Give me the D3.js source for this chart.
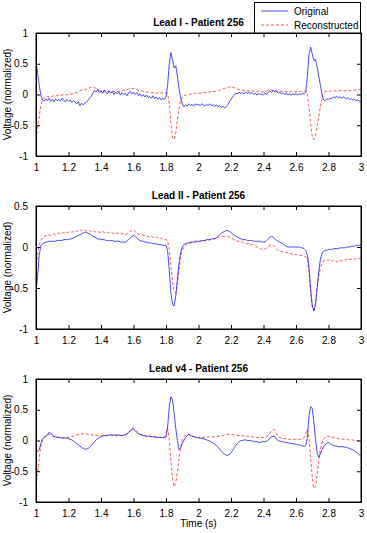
<!DOCTYPE html>
<html>
<head>
<meta charset="utf-8">
<script src="https://cdn.jsdelivr.net/npm/d3@7"></script>
<style>
  body { margin: 0; background: #fff; }
  text { font-family: "Liberation Sans", Arial, Helvetica, sans-serif; }
</style>
</head>
<body>
<div id="chart"></div>
<script>
// Data (sampled every 0.01 s from 1.00 to 3.00 s)
const time = d3.range(201).map(i => +(1 + i / 100).toFixed(2))

const xTicks = [1, 1.2, 1.4, 1.6, 1.8, 2, 2.2, 2.4, 2.6, 2.8, 3]
const titles = ['Lead I - Patient 256', 'Lead II - Patient 256', 'Lead v4 - Patient 256']
const yDomains = [[-1, 1], [-1, 0.5], [-1, 1]]
const yTicksList = [[-1, -0.5, 0, 0.5, 1], [-1, -0.5, 0, 0.5], [-1, -0.5, 0, 0.5, 1]]
const legendLabels = ['Original', 'Reconstructed']

const leadIOrig = [
  0.52, 0.35, 0.15, -0.02, -0.09, -0.11, -0.07, -0.10, -0.06, -0.11,
  -0.08, -0.12, -0.07, -0.10, -0.08, -0.11, -0.06, -0.09, -0.12, -0.08,
  -0.11, -0.09, -0.13, -0.10, -0.12, -0.15, -0.12, -0.18, -0.14, -0.17,
  -0.14, -0.12, -0.10, -0.06, -0.03, 0.02, 0.07, 0.04, 0.08, 0.03,
  0.06, 0.02, 0.07, 0.04, 0.01, 0.06, 0.02, 0.05, 0.00, 0.04,
  0.01, 0.04, -0.01, 0.03, 0.00, 0.02, -0.02, 0.03, 0.05, 0.01,
  0.04, 0.00, 0.03, -0.02, 0.01, -0.03, 0.00, -0.04, -0.01, -0.05,
  -0.03, -0.06, -0.02, -0.07, -0.04, -0.08, -0.05, -0.09, -0.06, -0.08,
  -0.04, 0.15, 0.50, 0.68, 0.56, 0.43, 0.47, 0.30, 0.10, -0.05,
  -0.15, -0.20, -0.17, -0.19, -0.15, -0.18, -0.16, -0.19, -0.15, -0.17,
  -0.16, -0.18, -0.15, -0.17, -0.19, -0.16, -0.18, -0.15, -0.18, -0.17,
  -0.19, -0.17, -0.20, -0.18, -0.21, -0.19, -0.22, -0.20, -0.17, -0.12,
  -0.08, -0.04, -0.01, 0.02, 0.01, 0.04, 0.02, 0.03, 0.01, 0.04,
  0.02, 0.04, 0.01, 0.03, 0.00, 0.02, -0.01, 0.02, 0.00, 0.01,
  -0.01, 0.02, 0.00, 0.04, 0.06, 0.03, 0.07, 0.04, 0.05, 0.02,
  0.04, 0.01, 0.03, 0.00, 0.02, -0.01, 0.01, -0.01, 0.01, 0.00,
  0.01, -0.01, 0.01, 0.00, 0.02, 0.01, 0.04, 0.30, 0.65, 0.77,
  0.66, 0.55, 0.57, 0.45, 0.30, 0.15, 0.00, -0.09, -0.10, -0.07,
  -0.08, -0.06, -0.07, -0.04, -0.05, -0.03, -0.05, -0.04, -0.06, -0.04,
  -0.05, -0.07, -0.05, -0.08, -0.07, -0.09, -0.08, -0.10, -0.09, -0.11,
  -0.12
]
const leadIRec = [
  -0.72, -0.55, -0.35, -0.18, -0.09, -0.05, -0.04, -0.03, -0.04, -0.03,
  -0.03, -0.02, -0.03, -0.01, -0.02, -0.01, -0.01, 0.00, -0.01, 0.00,
  0.00, 0.01, 0.01, 0.02, 0.03, 0.03, 0.05, 0.06, 0.07, 0.08,
  0.08, 0.09, 0.10, 0.11, 0.12, 0.12, 0.11, 0.10, 0.08, 0.07,
  0.06, 0.06, 0.05, 0.06, 0.05, 0.05, 0.04, 0.05, 0.05, 0.04,
  0.05, 0.05, 0.06, 0.06, 0.07, 0.07, 0.08, 0.09, 0.10, 0.10,
  0.10, 0.09, 0.08, 0.07, 0.06, 0.06, 0.05, 0.04, 0.04, 0.04,
  0.04, 0.03, 0.03, 0.03, 0.02, 0.03, 0.03, 0.02, 0.03, 0.03,
  0.03, 0.02, -0.15, -0.45, -0.70, -0.73, -0.62, -0.42, -0.22, -0.10,
  -0.04, -0.02, -0.01, 0.00, 0.00, 0.01, 0.01, 0.01, 0.02, 0.02,
  0.02, 0.02, 0.03, 0.03, 0.03, 0.04, 0.04, 0.04, 0.05, 0.05,
  0.05, 0.06, 0.06, 0.07, 0.08, 0.09, 0.10, 0.11, 0.12, 0.12,
  0.12, 0.12, 0.11, 0.10, 0.09, 0.08, 0.07, 0.07, 0.06, 0.06,
  0.06, 0.06, 0.05, 0.06, 0.05, 0.05, 0.04, 0.05, 0.04, 0.04,
  0.04, 0.05, 0.06, 0.07, 0.08, 0.07, 0.06, 0.07, 0.06, 0.05,
  0.05, 0.05, 0.04, 0.05, 0.04, 0.04, 0.04, 0.05, 0.04, 0.04,
  0.04, 0.05, 0.05, 0.05, 0.06, 0.06, 0.06, 0.02, -0.20, -0.48,
  -0.68, -0.73, -0.66, -0.52, -0.36, -0.20, -0.06, 0.03, 0.05, 0.05,
  0.06, 0.05, 0.06, 0.06, 0.06, 0.05, 0.06, 0.06, 0.06, 0.06,
  0.06, 0.06, 0.07, 0.06, 0.07, 0.07, 0.07, 0.07, 0.07, 0.08,
  0.08
]
const leadIIOrig = [
  -0.54, -0.35, -0.10, 0.02, 0.04, 0.05, 0.06, 0.06, 0.07, 0.07,
  0.07, 0.07, 0.07, 0.08, 0.08, 0.08, 0.08, 0.09, 0.09, 0.09,
  0.09, 0.10, 0.10, 0.11, 0.12, 0.13, 0.14, 0.15, 0.16, 0.17,
  0.18, 0.18, 0.17, 0.16, 0.15, 0.13, 0.12, 0.11, 0.10, 0.10,
  0.09, 0.09, 0.09, 0.08, 0.08, 0.08, 0.08, 0.08, 0.07, 0.07,
  0.07, 0.07, 0.06, 0.06, 0.06, 0.06, 0.07, 0.09, 0.11, 0.13,
  0.14, 0.13, 0.11, 0.09, 0.08, 0.07, 0.07, 0.06, 0.06, 0.05,
  0.05, 0.05, 0.04, 0.04, 0.04, 0.03, 0.03, 0.03, 0.02, 0.02,
  0.02, -0.05, -0.28, -0.55, -0.70, -0.72, -0.60, -0.40, -0.20, -0.07,
  0.00, 0.03, 0.04, 0.05, 0.05, 0.06, 0.06, 0.06, 0.07, 0.07,
  0.07, 0.07, 0.08, 0.08, 0.08, 0.09, 0.09, 0.09, 0.10, 0.10,
  0.10, 0.11, 0.13, 0.15, 0.17, 0.18, 0.19, 0.20, 0.20, 0.19,
  0.18, 0.16, 0.14, 0.13, 0.12, 0.11, 0.10, 0.09, 0.09, 0.09,
  0.08, 0.08, 0.08, 0.08, 0.07, 0.07, 0.07, 0.07, 0.07, 0.06,
  0.06, 0.06, 0.08, 0.10, 0.12, 0.13, 0.12, 0.10, 0.08, 0.07,
  0.06, 0.05, 0.04, 0.02, 0.01, 0.00, 0.00, 0.00, 0.00, 0.00,
  0.00, 0.00, 0.00, -0.01, -0.01, -0.02, -0.04, -0.10, -0.25, -0.50,
  -0.72, -0.78, -0.70, -0.50, -0.30, -0.15, -0.08, -0.05, -0.04, -0.04,
  -0.03, -0.03, -0.03, -0.02, -0.02, -0.02, -0.02, -0.01, -0.01, -0.01,
  -0.01, 0.00, 0.00, 0.00, 0.01, 0.01, 0.01, 0.02, 0.02, 0.02,
  0.03
]
const leadIIRec = [
  -0.28, -0.10, 0.03, 0.08, 0.11, 0.13, 0.14, 0.14, 0.15, 0.14,
  0.15, 0.16, 0.15, 0.16, 0.17, 0.16, 0.17, 0.18, 0.17, 0.18,
  0.18, 0.19, 0.18, 0.19, 0.20, 0.19, 0.20, 0.21, 0.20, 0.21,
  0.21, 0.20, 0.21, 0.20, 0.19, 0.20, 0.19, 0.18, 0.19, 0.18,
  0.18, 0.19, 0.18, 0.17, 0.18, 0.17, 0.18, 0.17, 0.16, 0.17,
  0.17, 0.16, 0.17, 0.16, 0.16, 0.15, 0.16, 0.17, 0.19, 0.20,
  0.21, 0.19, 0.17, 0.16, 0.15, 0.15, 0.14, 0.14, 0.13, 0.13,
  0.12, 0.13, 0.12, 0.11, 0.12, 0.11, 0.10, 0.11, 0.10, 0.09,
  0.09, 0.08, -0.03, -0.22, -0.42, -0.54, -0.56, -0.46, -0.28, -0.12,
  -0.04, 0.00, 0.02, 0.03, 0.04, 0.05, 0.05, 0.06, 0.06, 0.06,
  0.06, 0.07, 0.07, 0.07, 0.08, 0.08, 0.08, 0.09, 0.09, 0.10,
  0.10, 0.11, 0.12, 0.12, 0.13, 0.13, 0.13, 0.13, 0.13, 0.12,
  0.11, 0.10, 0.09, 0.08, 0.07, 0.07, 0.06, 0.06, 0.05, 0.05,
  0.04, 0.04, 0.03, 0.03, 0.02, 0.01, 0.00, -0.01, -0.02, -0.03,
  -0.03, -0.02, -0.01, 0.01, 0.02, 0.03, 0.02, 0.00, -0.02, -0.04,
  -0.05, -0.05, -0.06, -0.06, -0.07, -0.07, -0.08, -0.08, -0.09, -0.09,
  -0.09, -0.10, -0.10, -0.10, -0.11, -0.11, -0.12, -0.15, -0.30, -0.55,
  -0.72, -0.77, -0.68, -0.50, -0.35, -0.25, -0.20, -0.17, -0.16, -0.16,
  -0.16, -0.15, -0.17, -0.16, -0.17, -0.18, -0.17, -0.16, -0.17, -0.16,
  -0.16, -0.15, -0.16, -0.15, -0.15, -0.14, -0.15, -0.14, -0.14, -0.14,
  -0.13
]
const leadV4Orig = [
  -0.20, -0.17, -0.15, -0.05, 0.02, 0.05, 0.06, 0.09, 0.13, 0.12,
  0.09, 0.07, 0.06, 0.05, 0.05, 0.05, 0.04, 0.04, 0.04, 0.04,
  0.03, 0.02, 0.01, -0.01, -0.03, -0.05, -0.07, -0.09, -0.11, -0.13,
  -0.14, -0.14, -0.13, -0.11, -0.08, -0.05, -0.02, 0.01, 0.03, 0.05,
  0.06, 0.07, 0.08, 0.08, 0.08, 0.09, 0.09, 0.09, 0.09, 0.09,
  0.09, 0.09, 0.08, 0.08, 0.09, 0.10, 0.11, 0.13, 0.16, 0.18,
  0.18, 0.16, 0.13, 0.11, 0.10, 0.09, 0.08, 0.08, 0.07, 0.07,
  0.07, 0.06, 0.06, 0.06, 0.05, 0.05, 0.05, 0.05, 0.05, 0.05,
  0.06, 0.22, 0.55, 0.71, 0.66, 0.45, 0.20, 0.00, -0.15, -0.12,
  -0.05, 0.00, 0.05, 0.08, 0.10, 0.09, 0.07, 0.06, 0.05, 0.05,
  0.04, 0.04, 0.03, 0.03, 0.02, 0.01, 0.00, -0.01, -0.03, -0.04,
  -0.06, -0.08, -0.11, -0.14, -0.17, -0.20, -0.22, -0.24, -0.24, -0.23,
  -0.20, -0.16, -0.12, -0.08, -0.05, -0.02, 0.00, 0.00, 0.01, 0.01,
  0.00, 0.00, 0.00, -0.01, -0.01, -0.02, -0.02, -0.03, -0.03, -0.02,
  -0.02, -0.02, -0.01, 0.01, 0.04, 0.06, 0.07, 0.06, 0.02, 0.00,
  -0.01, -0.02, -0.02, -0.03, -0.03, -0.04, -0.04, -0.05, -0.05, -0.06,
  -0.06, -0.07, -0.07, -0.08, -0.09, -0.10, -0.08, 0.05, 0.40, 0.55,
  0.52, 0.30, 0.02, -0.20, -0.27, -0.22, -0.15, -0.10, -0.07, -0.04,
  -0.03, -0.05, -0.07, -0.08, -0.09, -0.09, -0.10, -0.10, -0.10, -0.10,
  -0.11, -0.11, -0.12, -0.13, -0.14, -0.15, -0.17, -0.19, -0.21, -0.23,
  -0.26
]
const leadV4Rec = [
  -0.75, -0.55, -0.28, -0.08, 0.02, 0.06, 0.08, 0.10, 0.10, 0.09,
  0.07, 0.06, 0.05, 0.05, 0.05, 0.04, 0.04, 0.05, 0.05, 0.05,
  0.05, 0.05, 0.06, 0.07, 0.08, 0.09, 0.10, 0.10, 0.11, 0.11,
  0.11, 0.11, 0.10, 0.10, 0.09, 0.09, 0.09, 0.08, 0.08, 0.08,
  0.08, 0.08, 0.09, 0.09, 0.08, 0.08, 0.09, 0.08, 0.08, 0.08,
  0.08, 0.08, 0.08, 0.08, 0.09, 0.09, 0.10, 0.13, 0.17, 0.20,
  0.20, 0.18, 0.15, 0.12, 0.10, 0.09, 0.08, 0.08, 0.07, 0.07,
  0.07, 0.06, 0.06, 0.06, 0.06, 0.05, 0.05, 0.05, 0.05, 0.05,
  0.12, 0.20, 0.02, -0.33, -0.62, -0.75, -0.70, -0.50, -0.30, -0.12,
  0.00, 0.06, 0.09, 0.10, 0.10, 0.09, 0.08, 0.07, 0.06, 0.05,
  0.05, 0.05, 0.05, 0.05, 0.05, 0.05, 0.06, 0.06, 0.06, 0.06,
  0.06, 0.06, 0.07, 0.07, 0.08, 0.08, 0.09, 0.10, 0.10, 0.10,
  0.10, 0.10, 0.09, 0.09, 0.08, 0.08, 0.08, 0.08, 0.07, 0.07,
  0.07, 0.07, 0.06, 0.06, 0.06, 0.05, 0.05, 0.05, 0.05, 0.05,
  0.05, 0.06, 0.07, 0.09, 0.12, 0.16, 0.18, 0.17, 0.12, 0.07,
  0.05, 0.04, 0.03, 0.03, 0.03, 0.02, 0.02, 0.02, 0.02, 0.02,
  0.02, 0.02, 0.02, 0.02, 0.03, 0.05, 0.12, 0.18, 0.05, -0.28,
  -0.60, -0.78, -0.75, -0.55, -0.33, -0.15, -0.04, 0.02, 0.05, 0.07,
  0.07, 0.06, 0.05, 0.05, 0.04, 0.04, 0.03, 0.03, 0.02, 0.02,
  0.02, 0.02, 0.01, 0.01, 0.01, 0.01, 0.00, 0.00, 0.00, 0.00,
  0.00
]

const panels = [
  { orig: leadIOrig, rec: leadIRec },
  { orig: leadIIOrig, rec: leadIIRec },
  { orig: leadV4Orig, rec: leadV4Rec },
]

// Dimensions
const width = 367, height = 533
const left = 36, right = 361
const tops = [33, 206, 379]
const plotH = 123

const svg = d3.select('#chart').append('svg')
  .attr('width', width)
  .attr('height', height)

const xScale = d3.scaleLinear().domain([1, 3]).range([left, right])
const fmt = d => String(d)   // plain hyphen minus, like the original figure

panels.forEach((p, k) => {
  const top = tops[k]
  const yScale = d3.scaleLinear().domain(yDomains[k]).range([top + plotH, top])
  const g = svg.append('g')

  g.append('clipPath').attr('id', 'clip' + k)
    .append('rect')
    .attr('x', left).attr('y', top)
    .attr('width', right - left).attr('height', plotH)

  const line = d3.line()
    .x((d, i) => xScale(time[i]))
    .y(d => yScale(d))

  // reconstructed drawn under original
  g.append('path')
    .datum(p.rec)
    .attr('d', line)
    .attr('clip-path', `url(#clip${k})`)
    .attr('fill', 'none')
    .attr('stroke', '#ff2020')
    .attr('stroke-width', 0.75)
    .attr('stroke-dasharray', '3,2')

  g.append('path')
    .datum(p.orig)
    .attr('d', line)
    .attr('clip-path', `url(#clip${k})`)
    .attr('fill', 'none')
    .attr('stroke', '#1010ff')
    .attr('stroke-width', 0.75)

  // axes, MATLAB style ticks inside on all sides
  const tickLen = 4
  g.append('g')
    .attr('transform', `translate(0,${top + plotH})`)
    .call(d3.axisBottom(xScale).tickValues(xTicks).tickSizeInner(-tickLen).tickSizeOuter(0).tickPadding(8).tickFormat(fmt))
  g.append('g')
    .attr('transform', `translate(0,${top})`)
    .call(d3.axisTop(xScale).tickValues(xTicks).tickSizeInner(-tickLen).tickSizeOuter(0).tickFormat(''))
  g.append('g')
    .attr('transform', `translate(${left},0)`)
    .call(d3.axisLeft(yScale).tickValues(yTicksList[k]).tickSizeInner(-tickLen).tickSizeOuter(0).tickPadding(8).tickFormat(fmt))
  g.append('g')
    .attr('transform', `translate(${right},0)`)
    .call(d3.axisRight(yScale).tickValues(yTicksList[k]).tickSizeInner(-tickLen).tickSizeOuter(0).tickFormat(''))

  g.selectAll('.domain').attr('stroke', '#000').attr('stroke-width', 1)
  g.selectAll('.tick line').attr('stroke', '#000')
  g.selectAll('.tick text').attr('font-size', 10).attr('fill', '#000')
    .attr('font-family', '"Liberation Sans", Arial, sans-serif')

  g.append('rect')
    .attr('x', left).attr('y', top)
    .attr('width', right - left).attr('height', plotH)
    .attr('fill', 'none').attr('stroke', '#000').attr('stroke-width', 1)

  // title
  g.append('text')
    .attr('x', (left + right) / 2)
    .attr('y', top - 7)
    .attr('text-anchor', 'middle')
    .attr('font-size', 10)
    .attr('font-weight', 'bold')
    .text(titles[k])

  // y label
  g.append('text')
    .attr('transform', `translate(11,${top + plotH / 2}) rotate(-90)`)
    .attr('text-anchor', 'middle')
    .attr('font-size', 10)
    .text('Voltage (normalized)')
})

svg.append('text')
  .attr('x', (left + right) / 2)
  .attr('y', 527)
  .attr('text-anchor', 'middle')
  .attr('font-size', 10)
  .text('Time (s)')

// Legend
const legend = svg.append('g')
legend.append('rect')
  .attr('x', 254.5).attr('y', 2.5)
  .attr('width', 106).attr('height', 30.5)
  .attr('fill', '#fff').attr('stroke', '#000').attr('stroke-width', 1)
legendLabels.forEach((label, i) => {
  const y = 11 + i * 14
  legend.append('line')
    .attr('x1', 261).attr('x2', 288)
    .attr('y1', y).attr('y2', y)
    .attr('stroke', i === 0 ? '#1010ff' : '#ff2020')
    .attr('stroke-width', 0.75)
    .attr('stroke-dasharray', i === 0 ? null : '3,2')
  legend.append('text')
    .attr('x', 294).attr('y', y)
    .attr('dy', '0.35em')
    .attr('font-size', 10)
    .text(label)
})
</script>
</body>
</html>
